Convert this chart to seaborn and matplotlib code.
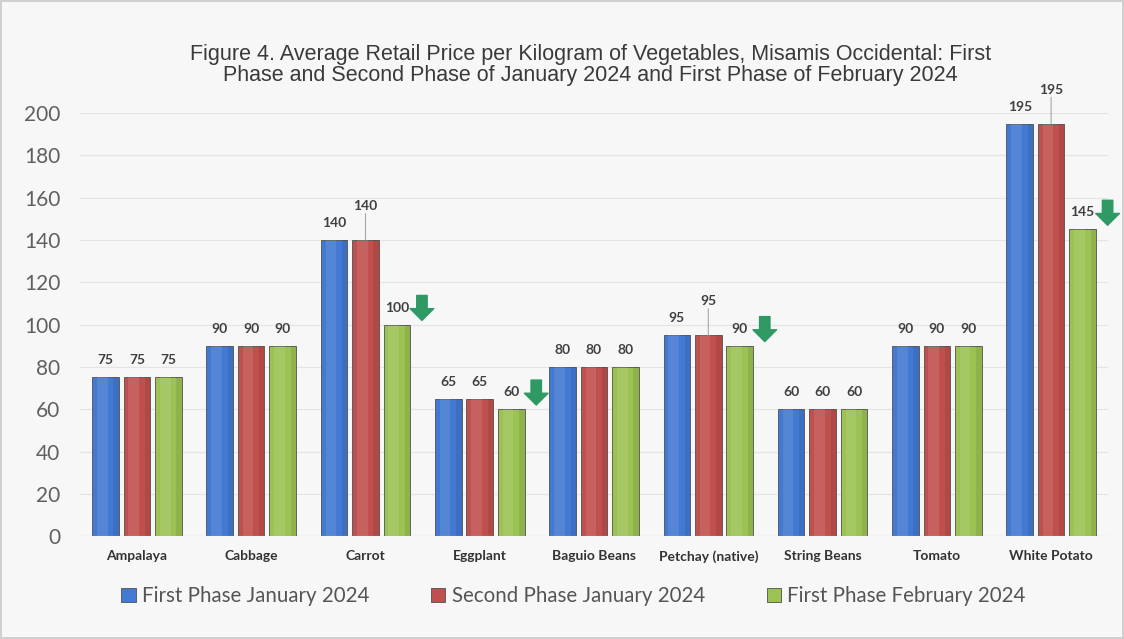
import pandas as pd
import matplotlib.pyplot as plt
import matplotlib.transforms as mtransforms
import seaborn as sns
from matplotlib.patches import Rectangle

vegetables = ['Ampalaya', 'Cabbage', 'Carrot', 'Eggplant', 'Baguio Beans',
              'Petchay (native)', 'String Beans', 'Tomato', 'White Potato']
first_jan = [75, 90, 140, 65, 80, 95, 60, 90, 195]
second_jan = [75, 90, 140, 65, 80, 95, 60, 90, 195]
first_feb = [75, 90, 100, 60, 80, 90, 60, 90, 145]
phases = ['First Phase January 2024', 'Second Phase January 2024', 'First Phase February 2024']
colors = ['#4279d2', '#c0504d', '#9bc253']

df = pd.DataFrame({'vegetable': vegetables * 3,
                   'price': first_jan + second_jan + first_feb,
                   'phase': [p for p in phases for _ in vegetables]})

sns.set_style('white')
plt.rcParams['font.family'] = ['Lato', 'DejaVu Sans']

fig = plt.figure(figsize=(11.24, 6.39), dpi=100, facecolor='#f7f7f7',
                 edgecolor='#d0d0d0', linewidth=1.5)
ax = fig.add_axes([0.071, 0.161, 0.915, 0.662])
ax.set_facecolor('#f7f7f7')

sns.barplot(data=df, x='vegetable', y='price', hue='phase', hue_order=phases,
            palette=colors, width=0.826, gap=0.156, ax=ax, edgecolor='#505050',
            linewidth=0.6, saturation=1)

ax.set_ylim(0, 200)
ax.set_xlim(-0.5, 8.5)
ax.set_yticks(range(0, 201, 20))
ax.yaxis.grid(True, color='#e4e4e4', linewidth=0.8)
ax.set_axisbelow(True)
sns.despine(ax=ax, left=True, bottom=True)
ax.set_xlabel('')
ax.set_ylabel('')
ax.tick_params(axis='y', labelsize=15, colors='#606060', pad=14, length=0)
ax.tick_params(axis='x', labelsize=10, colors='#333333', pad=10, length=0)
for t in ax.get_xticklabels():
    t.set_fontweight('bold')
ax.axhline(0, color='#d0d0d0', linewidth=0.8)

# soft cylinder-ish shading on each bar
for bar in list(ax.patches):
    if bar.get_height() <= 0 or bar.get_width() <= 0:
        continue
    x0, w, h = bar.get_x(), bar.get_width(), bar.get_height()
    ax.add_patch(Rectangle((x0 + w * 0.18, 0), w * 0.4, h, facecolor='white',
                           alpha=0.10, linewidth=0, zorder=bar.get_zorder() + 0.1))
    ax.add_patch(Rectangle((x0 + w * 0.8, 0), w * 0.2, h, facecolor='black',
                           alpha=0.08, linewidth=0, zorder=bar.get_zorder() + 0.1))

# value labels; raised red labels get a leader line, green decreases get an arrow
raised = {2, 5, 8}
tip = ax.transData + mtransforms.ScaledTranslation(18 / 72, 3 / 72, fig.dpi_scale_trans)
tail = ax.transData + mtransforms.ScaledTranslation(18 / 72, 21 / 72, fig.dpi_scale_trans)
for k, cont in enumerate(ax.containers):
    for i, bar in enumerate(cont):
        x = bar.get_x() + bar.get_width() / 2
        h = bar.get_height()
        off = 8
        if k == 1 and i in raised:
            off = 20
            ax.annotate('', xy=(x, h), xytext=(0, 19), textcoords='offset points',
                        arrowprops=dict(arrowstyle='-', color='#a8a8a8', lw=0.8,
                                        shrinkA=0, shrinkB=0))
        ax.annotate(str(int(h)), xy=(x, h), xytext=(0, off), textcoords='offset points',
                    ha='center', va='bottom', fontsize=10, fontweight='bold', color='#404040')
        if k == 2 and h < first_jan[i]:
            ax.annotate('', xy=(x, h), xycoords=tip, xytext=(x, h), textcoords=tail,
                        annotation_clip=False,
                        arrowprops=dict(arrowstyle='simple,head_width=1.7,head_length=0.85,tail_width=0.75',
                                        mutation_scale=10, color='#2f9964',
                                        shrinkA=0, shrinkB=0))

fig.text(0.525, 0.898,
         'Figure 4. Average Retail Price per Kilogram of Vegetables, Misamis Occidental: First\n'
         'Phase and Second Phase of January 2024 and First Phase of February 2024',
         ha='center', va='center', fontsize=15.5, color='#3a3a3a',
         family=['Liberation Sans', 'DejaVu Sans'], linespacing=1.0)

ax.legend(loc='upper center', bbox_to_anchor=(0.48, -0.075), ncol=3, frameon=False,
          fontsize=14.8, handlelength=0.7, handleheight=0.7, handletextpad=0.3,
          columnspacing=3.0, labelcolor='#555555')

fig.savefig('out.png', dpi=100, facecolor=fig.get_facecolor(), edgecolor=fig.get_edgecolor())
